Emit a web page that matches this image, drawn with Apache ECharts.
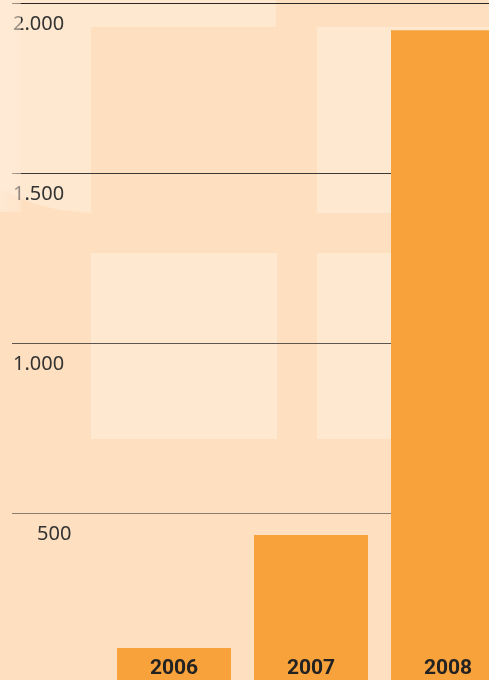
<!DOCTYPE html>
<html><head><meta charset="utf-8">
<script src="https://cdn.jsdelivr.net/npm/echarts@6/dist/echarts.min.js"></script>
<style>html,body{margin:0;padding:0;background:#FEDFBF;}#c{width:489px;height:680px;}</style>
</head><body><div id="c"></div>
<script>
const categories = ['2006', '2007', '2008'];
const values = [104, 436, 1921];
const tickValues = [0, 500, 1000, 1500, 2000];
const tickLabels = ['0', '500', '1.000', '1.500', '2.000'];

const BG = '#FEDFBF', LIGHT = '#FFE8D0', BAR = '#F8A23C';
const chart = echarts.init(document.getElementById('c'), null, {renderer: 'canvas'});
const yMin = tickValues[0], yMax = tickValues[tickValues.length - 1];
const barData = values.map((v, i) => [i, v]);

chart.setOption({
  backgroundColor: BG,
  animation: false,
  graphic: [
    {type: 'polygon', z: -10, silent: true,
     shape: {points: [[0,0],[276,0],[276,27],[91,27],[91,213],[60,210],[35,204],[15,196],[0,189]]},
     style: {fill: LIGHT}},
    {type: 'rect', z: -10, silent: true, shape: {x: 317, y: 27, width: 180, height: 186}, style: {fill: LIGHT}},
    {type: 'rect', z: -10, silent: true, shape: {x: 91, y: 253, width: 186, height: 186}, style: {fill: LIGHT}},
    {type: 'rect', z: -10, silent: true, shape: {x: 317, y: 253, width: 180, height: 186}, style: {fill: LIGHT}},
    {type: 'rect', z: 100, silent: true, shape: {x: 0, y: 0, width: 21, height: 212},
     style: {fill: {type: 'linear', x: 0, y: 0, x2: 1, y2: 0,
       colorStops: [{offset: 0, color: 'rgba(255,236,218,0.75)'}, {offset: 1, color: 'rgba(255,234,214,0.45)'}]}}}
  ],
  grid: [
    {left: 12, top: 3.3, right: 0, height: 680, outerBoundsMode: 'none', containLabel: false},
    {left: 105.5, top: 3.3, right: 0, height: 680, outerBoundsMode: 'none', containLabel: false}
  ],
  xAxis: [
    {gridIndex: 0, type: 'value', show: false},
    {gridIndex: 1, type: 'value', min: -0.5, max: 2.5 - 27.5 / 137, show: false, splitLine: {show: false}}
  ],
  yAxis: [
    {gridIndex: 0, type: 'value', min: yMin, max: yMax, interval: 500,
     axisLine: {show: false}, axisTick: {show: false},
     splitLine: {show: true, lineStyle: {width: 1, color: ['#888', '#8a7d72', '#5d5650', '#3c3836', '#2a2624']}},
     axisLabel: {
       inside: true, margin: 1, showMinLabel: false, verticalAlign: 'top',
       formatter: function (v) {
         const i = tickValues.indexOf(v);
         const t = i >= 0 ? tickLabels[i] : '';
         return v === 500 ? '{s|' + t + '}' : '{n|' + t + '}';
       },
       rich: {
         n: {fontFamily: 'Noto Sans', fontSize: 20, color: '#333', lineHeight: 20, padding: [22, 0, 0, 0]},
         s: {fontFamily: 'Noto Sans', fontSize: 20, color: '#333', lineHeight: 20, padding: [22, 0, 0, 24]}
       }
     }},
    {gridIndex: 1, type: 'value', min: yMin, max: yMax, show: false, splitLine: {show: false}}
  ],
  series: [{
    type: 'bar', xAxisIndex: 1, yAxisIndex: 1, data: barData, barWidth: 114,
    itemStyle: {color: BAR},
    label: {show: true, position: 'insideBottom', distance: 4,
      formatter: function (p) { return categories[p.dataIndex]; },
      fontFamily: 'Roboto', fontWeight: 'bold', fontSize: 21, color: '#222', lineHeight: 22}
  }]
});
</script></body></html>
